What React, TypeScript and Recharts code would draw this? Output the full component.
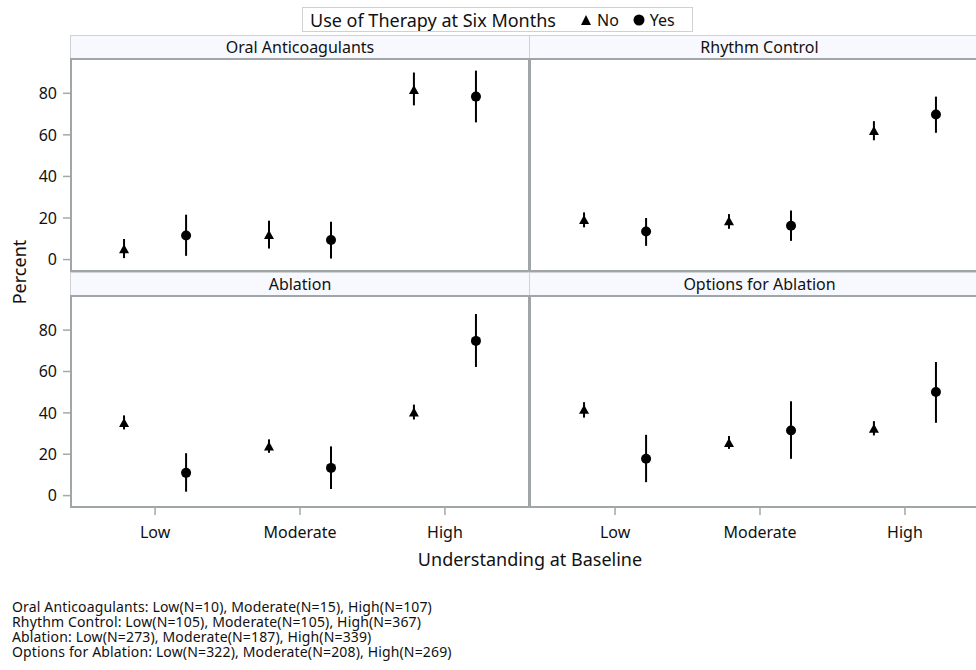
import React from 'react';
import { ScatterChart, Scatter, XAxis, YAxis, ErrorBar } from 'recharts';

// Use of therapy at six months by baseline understanding, 4 therapy panels.
// Values are percent with 95% CI, in the order Low / Moderate / High.

const FONT = '"Noto Sans", "DejaVu Sans", sans-serif';

const categories = ['Low', 'Moderate', 'High'];
const yTicks = [0, 20, 40, 60, 80];

const oacNo = [5.0, 11.8, 81.6];
const oacNoLo = [0.7, 5.3, 74.2];
const oacNoHi = [9.9, 18.7, 90.0];
const oacYes = [11.6, 9.4, 78.4];
const oacYesLo = [1.8, 0.5, 66.0];
const oacYesHi = [21.6, 18.2, 90.9];

const rhythmNo = [19.0, 18.4, 61.8];
const rhythmNoLo = [15.5, 14.8, 57.4];
const rhythmNoHi = [22.7, 21.9, 66.6];
const rhythmYes = [13.5, 16.3, 69.8];
const rhythmYesLo = [6.6, 9.0, 61.0];
const rhythmYesHi = [20.0, 23.6, 78.4];

const ablNo = [35.1, 23.8, 40.2];
const ablNoLo = [32.0, 20.7, 36.8];
const ablNoHi = [38.8, 27.2, 44.0];
const ablYes = [11.0, 13.4, 74.8];
const ablYesLo = [1.9, 3.2, 62.2];
const ablYesHi = [20.5, 23.8, 87.8];

const optNo = [41.5, 25.4, 32.3];
const optNoLo = [37.7, 22.6, 29.1];
const optNoHi = [45.2, 28.8, 36.0];
const optYes = [17.8, 31.5, 50.1];
const optYesLo = [6.5, 17.8, 35.2];
const optYesHi = [29.4, 45.6, 64.6];

const footnotes = [
  'Oral Anticoagulants: Low(N=10), Moderate(N=15), High(N=107)',
  'Rhythm Control: Low(N=105), Moderate(N=105), High(N=367)',
  'Ablation: Low(N=273), Moderate(N=187), High(N=339)',
  'Options for Ablation: Low(N=322), Moderate(N=208), High(N=269)',
];

// cluster offset of the two groups around each category
const SHIFT = 0.214;
const X_DOMAIN: [number, number] = [-0.58, 2.58];
const Y_DOMAIN: [number, number] = [-5.5, 96.5];

const AXIS_GRAY = '#a3a8ab';
const BORDER_GRAY = '#a0a5a8';

type Row = { x: number; y: number; err: [number, number] };

const buildRows = (pct: number[], lo: number[], hi: number[], shift: number): Row[] =>
  pct.map((p, i) => ({ x: i + shift, y: p, err: [p - lo[i], hi[i] - p] }));

const Triangle = (props: any) => {
  const { cx, cy } = props;
  if (cx == null || cy == null) return null;
  return (
    <polygon
      points={`${cx},${cy - 5} ${cx - 5},${cy + 4} ${cx + 5},${cy + 4}`}
      fill="#000"
    />
  );
};

const Dot = (props: any) => {
  const { cx, cy } = props;
  if (cx == null || cy == null) return null;
  return <circle cx={cx} cy={cy} r={5} fill="#000" />;
};

const panels = [
  {
    title: 'Oral Anticoagulants',
    no: buildRows(oacNo, oacNoLo, oacNoHi, -SHIFT),
    yes: buildRows(oacYes, oacYesLo, oacYesHi, SHIFT),
  },
  {
    title: 'Rhythm Control',
    no: buildRows(rhythmNo, rhythmNoLo, rhythmNoHi, -SHIFT),
    yes: buildRows(rhythmYes, rhythmYesLo, rhythmYesHi, SHIFT),
  },
  {
    title: 'Ablation',
    no: buildRows(ablNo, ablNoLo, ablNoHi, -SHIFT),
    yes: buildRows(ablYes, ablYesLo, ablYesHi, SHIFT),
  },
  {
    title: 'Options for Ablation',
    no: buildRows(optNo, optNoLo, optNoHi, -SHIFT),
    yes: buildRows(optYes, optYesLo, optYesHi, SHIFT),
  },
];

// geometry of the 2x2 lattice
const COL_LEFT = [70, 529];
const COL_WIDTH = [460, 461];
const ROW_HEADER_TOP = [35, 272];
const ROW_PLOT_TOP = [59, 296];
const ROW_PLOT_H = [212, 211];
const X_AXIS_H = 45;
const Y_AXIS_W = 71;

interface PanelProps {
  title: string;
  no: Row[];
  yes: Row[];
  col: number;
  row: number;
}

const Panel: React.FC<PanelProps> = ({ title, no, yes, col, row }) => {
  const showY = col === 0;
  const showX = row === 1;
  const chartLeft = showY ? 0 : COL_LEFT[col] + 2;
  const chartWidth = showY ? Y_AXIS_W + 458 : 458;
  const chartHeight = ROW_PLOT_H[row] + (showX ? X_AXIS_H : 0);

  return (
    <>
      {/* header strip */}
      <div
        style={{
          position: 'absolute',
          left: COL_LEFT[col],
          top: ROW_HEADER_TOP[row],
          width: COL_WIDTH[col],
          height: 24,
          boxSizing: 'border-box',
          border: '1px solid #cfd2d4',
          background: '#f8f9fe',
          display: 'flex',
          alignItems: 'center',
          justifyContent: 'center',
          fontSize: 16,
          color: '#111',
        }}
      >
        {title}
      </div>

      <div style={{ position: 'absolute', left: chartLeft, top: ROW_PLOT_TOP[row] }}>
        <ScatterChart
          width={chartWidth}
          height={chartHeight}
          margin={{ top: 0, right: 0, bottom: 0, left: 0 }}
        >
          <XAxis
            type="number"
            dataKey="x"
            domain={X_DOMAIN}
            ticks={[0, 1, 2]}
            interval={0}
            allowDataOverflow
            hide={!showX}
            height={X_AXIS_H}
            axisLine={false}
            tickLine={{ stroke: AXIS_GRAY, strokeWidth: 1.5 }}
            tickSize={8}
            tickMargin={12}
            tickFormatter={(v: number) => categories[v] ?? ''}
            tick={{ fill: '#111', fontSize: 16, fontFamily: FONT }}
          />
          <YAxis
            type="number"
            dataKey="y"
            domain={Y_DOMAIN}
            ticks={yTicks}
            interval={0}
            allowDataOverflow
            hide={!showY}
            width={Y_AXIS_W}
            axisLine={false}
            tickLine={{ stroke: AXIS_GRAY, strokeWidth: 1.5 }}
            tickSize={8}
            tickMargin={6}
            tick={{ fill: '#111', fontSize: 16, fontFamily: FONT }}
          />
          <Scatter data={no} shape={<Triangle />} isAnimationActive={false}>
            <ErrorBar
              dataKey="err"
              direction="y"
              width={0}
              stroke="#000"
              strokeWidth={2}
              isAnimationActive={false}
            />
          </Scatter>
          <Scatter data={yes} shape={<Dot />} isAnimationActive={false}>
            <ErrorBar
              dataKey="err"
              direction="y"
              width={0}
              stroke="#000"
              strokeWidth={2}
              isAnimationActive={false}
            />
          </Scatter>
        </ScatterChart>
      </div>

      {/* panel frame */}
      <div
        style={{
          position: 'absolute',
          left: COL_LEFT[col],
          top: ROW_PLOT_TOP[row] - 1,
          width: COL_WIDTH[col],
          height: ROW_PLOT_H[row] + 2,
          boxSizing: 'border-box',
          border: `2px solid ${BORDER_GRAY}`,
          pointerEvents: 'none',
        }}
      />
    </>
  );
};

const LegendTriangle = () => (
  <svg width={12} height={12} style={{ display: 'block' }}>
    <polygon points="6,1 1,11 11,11" fill="#000" />
  </svg>
);

const LegendDot = () => (
  <svg width={12} height={12} style={{ display: 'block' }}>
    <circle cx={6} cy={6} r={5.5} fill="#000" />
  </svg>
);

export default function App() {
  return (
    <div
      style={{
        position: 'absolute',
        left: 0,
        top: 0,
        width: 976,
        height: 670,
        overflow: 'hidden',
        background: '#fff',
        fontFamily: FONT,
        color: '#111',
      }}
    >
      {/* legend */}
      <div
        style={{
          position: 'absolute',
          left: 302,
          top: 7,
          width: 391,
          height: 25,
          boxSizing: 'border-box',
          border: '1.5px solid #cfd2d4',
          display: 'flex',
          alignItems: 'center',
          paddingLeft: 7,
          fontSize: 18,
          whiteSpace: 'nowrap',
        }}
      >
        <span>Use of Therapy at Six Months</span>
        <span style={{ marginLeft: 24, marginRight: 5 }}>
          <LegendTriangle />
        </span>
        <span style={{ fontSize: 16 }}>No</span>
        <span style={{ marginLeft: 14, marginRight: 5 }}>
          <LegendDot />
        </span>
        <span style={{ fontSize: 16 }}>Yes</span>
      </div>

      {panels.map((p, i) => (
        <Panel key={p.title} title={p.title} no={p.no} yes={p.yes} col={i % 2} row={Math.floor(i / 2)} />
      ))}

      {/* y axis label */}
      <div
        style={{
          position: 'absolute',
          left: 19,
          top: 272,
          transform: 'translate(-50%, -50%) rotate(-90deg)',
          fontSize: 18,
          whiteSpace: 'nowrap',
        }}
      >
        Percent
      </div>

      {/* x axis label */}
      <div
        style={{
          position: 'absolute',
          left: 530,
          top: 550,
          transform: 'translateX(-50%)',
          fontSize: 18,
          lineHeight: '18px',
          whiteSpace: 'nowrap',
        }}
      >
        Understanding at Baseline
      </div>

      {/* sample sizes */}
      <div
        style={{
          position: 'absolute',
          left: 12,
          top: 599,
          fontSize: 14,
          lineHeight: '15px',
          letterSpacing: 0.15,
          whiteSpace: 'nowrap',
        }}
      >
        {footnotes.map((f) => (
          <div key={f}>{f}</div>
        ))}
      </div>
    </div>
  );
}
